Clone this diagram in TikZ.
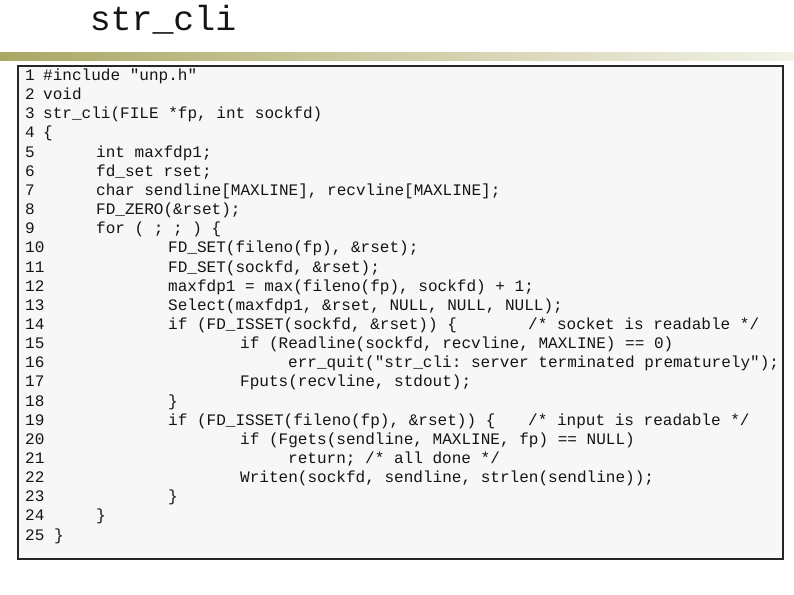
\documentclass[tikz,border=0pt]{standalone}
\usepackage{fontspec}
\setmonofont{Liberation Mono}
\definecolor{barol}{RGB}{170,168,100}
\begin{document}
\begin{tikzpicture}[x=1bp,y=-1bp,
  code/.style={anchor=base west,inner sep=0,font=\ttfamily\fontsize{16.1}{17}\selectfont,text=black!92}]
\useasboundingbox (0,0) rectangle (794,595);
\shade[left color=barol,right color=barol!15!white] (0,53) rectangle (794,61);
\node[anchor=base,inner sep=0,font=\ttfamily\fontsize{35}{36}\selectfont,text=black!92] (title) at (163,31) {str\_cli};
\node[draw=black!85,line width=2pt,fill=black!3,minimum width=765bp,minimum height=493bp,anchor=north west,inner sep=0] (box) at (17,65) {};
\foreach \n/\xx/\t [count=\i from 0] in {
 1/43/{\#include "unp.h"},
 2/43/{void},
 3/43/{str\_cli(FILE *fp, int sockfd)},
 4/43/{\{},
 5/96/{int maxfdp1;},
 6/96/{fd\_set rset;},
 7/96/{char sendline[MAXLINE], recvline[MAXLINE];},
 8/96/{FD\_ZERO(\&rset);},
 9/96/{for ( ; ; ) \{},
 10/168/{FD\_SET(fileno(fp), \&rset);},
 11/168/{FD\_SET(sockfd, \&rset);},
 12/168/{maxfdp1 = max(fileno(fp), sockfd) + 1;},
 13/168/{Select(maxfdp1, \&rset, NULL, NULL, NULL);},
 14/168/{if (FD\_ISSET(sockfd, \&rset)) \{},
 15/240/{if (Readline(sockfd, recvline, MAXLINE) == 0)},
 16/288/{err\_quit("str\_cli: server terminated prematurely");},
 17/240/{Fputs(recvline, stdout);},
 18/168/{\}},
 19/168/{if (FD\_ISSET(fileno(fp), \&rset)) \{},
 20/240/{if (Fgets(sendline, MAXLINE, fp) == NULL)},
 21/288/{return; /* all done */},
 22/240/{Writen(sockfd, sendline, strlen(sendline));},
 23/168/{\}},
 24/96/{\}},
 25/54/{\}}}
{
  \node[code] (n\n) at (25,{80.5+\i*19.15}) {\n};
  \node[code] (c\n) at (\xx,{80.5+\i*19.15}) {\t};
}
\node[code] (k14) at (528,{80.5+13*19.15}) {/* socket is readable */};
\node[code] (k19) at (528,{80.5+18*19.15}) {/* input is readable */};
\end{tikzpicture}
\end{document}
